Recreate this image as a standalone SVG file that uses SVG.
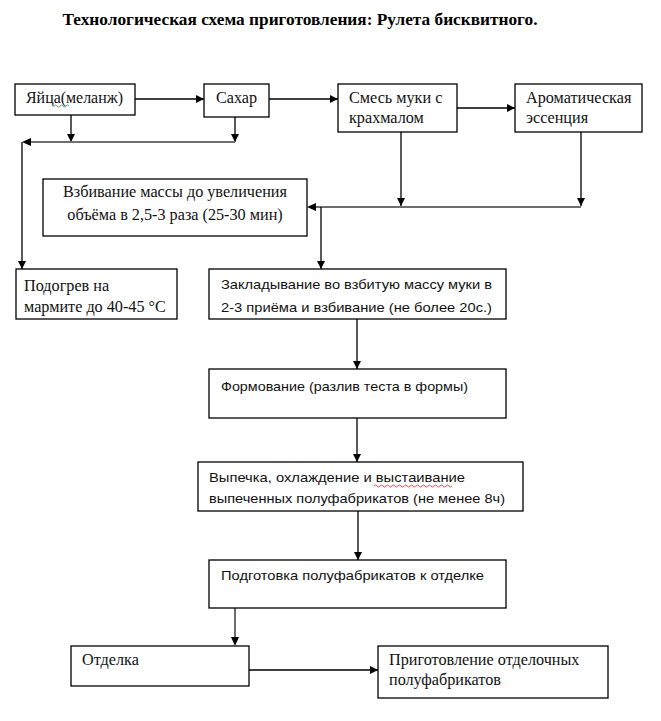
<svg xmlns="http://www.w3.org/2000/svg" width="661" height="721" viewBox="0 0 661 721">
<defs>
<style>
.box{fill:#fff;stroke:#000;stroke-width:1.3}
.s{font-family:"Liberation Serif","Times New Roman",serif;font-size:16.2px;fill:#111}
.a{font-family:"Liberation Sans",Arial,sans-serif;font-size:13.5px;fill:#111}
.t{font-family:"Liberation Serif","Times New Roman",serif;font-size:16.5px;font-weight:bold;fill:#000}
.c{fill:none;stroke:#000;stroke-width:1.3}
.g{fill:none;stroke:#6e6e6e;stroke-width:2}
.w{fill:none;stroke-width:0.8}
</style>
<marker id="ah" viewBox="0 0 10 10" refX="10" refY="5" markerWidth="8" markerHeight="8" markerUnits="userSpaceOnUse" orient="auto">
<path d="M0,0 L10,5 L0,10 z" fill="#000"/>
</marker>
</defs>
<rect width="661" height="721" fill="#fff"/>
<text class="t" x="300" y="25" text-anchor="middle" textLength="475" lengthAdjust="spacingAndGlyphs">Технологическая схема приготовления: Рулета бисквитного.</text>

<g id="connectors">
<line class="c" x1="135" y1="99" x2="204" y2="99" marker-end="url(#ah)"/>
<line class="c" x1="269" y1="99" x2="338" y2="99" marker-end="url(#ah)"/>
<line class="c" x1="457" y1="108" x2="515" y2="108" marker-end="url(#ah)"/>
<line class="c" x1="71" y1="115" x2="71" y2="142" marker-end="url(#ah)"/>
<line class="c" x1="235" y1="117" x2="235" y2="142" marker-end="url(#ah)"/>
<line class="g" x1="235" y1="142" x2="30" y2="142"/>
<path d="M22,142 L31,138 L31,146 z" fill="#000"/>
<line class="c" x1="22" y1="142" x2="22" y2="269" marker-end="url(#ah)"/>
<line class="c" x1="401" y1="132" x2="401" y2="206" marker-end="url(#ah)"/>
<line class="c" x1="581" y1="132" x2="581" y2="206" marker-end="url(#ah)"/>
<line class="g" x1="581" y1="207" x2="316" y2="207"/>
<path d="M307,207 L316,203 L316,211 z" fill="#000"/>
<line class="c" x1="321" y1="207" x2="321" y2="269" marker-end="url(#ah)"/>
<line class="c" x1="357" y1="319" x2="357" y2="369" marker-end="url(#ah)"/>
<line class="c" x1="357" y1="418" x2="357" y2="462" marker-end="url(#ah)"/>
<line class="c" x1="358" y1="511" x2="358" y2="560" marker-end="url(#ah)"/>
<line class="g" x1="235" y1="608" x2="235" y2="640"/>
<path d="M235,646 L231,637 L239,637 z" fill="#000"/>
<line class="c" x1="249" y1="670" x2="378" y2="670" marker-end="url(#ah)"/>
</g>

<g id="n1"><rect class="box" x="15" y="84" width="120" height="31"/><text class="s" x="26" y="103" textLength="97" lengthAdjust="spacingAndGlyphs">Яйца(меланж)</text>
<path class="w" stroke="#2e8b57" d="M54,106 q1.5,-2 3,0 t3,0 t3,0 t3,0 t3,0"/></g>
<g id="n2"><rect class="box" x="204" y="84" width="65" height="33"/><text class="s" x="216" y="103">Сахар</text></g>
<g id="n3"><rect class="box" x="338" y="84" width="119" height="48"/><text class="s" x="349" y="103">Смесь муки с</text><text class="s" x="349" y="123">крахмалом</text></g>
<g id="n4"><rect class="box" x="515" y="84" width="127" height="48"/><text class="s" x="526" y="103">Ароматическая</text><text class="s" x="526" y="123">эссенция</text></g>
<g id="n5"><rect class="box" x="43" y="179" width="264" height="57"/><text class="s" x="175" y="197" text-anchor="middle">Взбивание массы до увеличения</text><text class="s" x="175" y="220" text-anchor="middle">объёма в 2,5-3 раза (25-30 мин)</text></g>
<g id="n6"><rect class="box" x="16" y="269" width="161" height="50"/><text class="s" x="24" y="291">Подогрев на</text><text class="s" x="24" y="312">мармите до 40-45 °С</text></g>
<g id="n7"><rect class="box" x="209" y="269" width="297" height="50"/><text class="a" x="221" y="289" textLength="271" lengthAdjust="spacingAndGlyphs">Закладывание во взбитую массу муки в</text><text class="a" x="221" y="312" textLength="271" lengthAdjust="spacingAndGlyphs">2-3 приёма и взбивание (не более 20с.)</text></g>
<g id="n8"><rect class="box" x="209" y="369" width="297" height="49"/><text class="a" x="221" y="391" textLength="247" lengthAdjust="spacingAndGlyphs">Формование (разлив теста в формы)</text></g>
<g id="n9"><rect class="box" x="198" y="462" width="325" height="49"/><text class="a" x="209" y="482" textLength="256" lengthAdjust="spacingAndGlyphs">Выпечка, охлаждение и выстаивание</text>
<path class="w" stroke="#d22" d="M374,486 q1.5,-2 3,0 t3,0 t3,0 t3,0 t3,0 t3,0 t3,0 t3,0 t3,0 t3,0 t3,0 t3,0 t3,0 t3,0 t3,0 t3,0 t3,0 t3,0 t3,0 t3,0 t3,0 t3,0 t3,0 t3,0 t3,0 t3,0"/>
<text class="a" x="209" y="503" textLength="296" lengthAdjust="spacingAndGlyphs">выпеченных полуфабрикатов (не менее 8ч)</text></g>
<g id="n10"><rect class="box" x="209" y="560" width="297" height="48"/><text class="a" x="221" y="580" textLength="263" lengthAdjust="spacingAndGlyphs">Подготовка полуфабрикатов к отделке</text></g>
<g id="n11"><rect class="box" x="71" y="646" width="178" height="40"/><text class="s" x="82" y="665">Отделка</text></g>
<g id="n12"><rect class="box" x="378" y="646" width="230" height="52"/><text class="s" x="389" y="665">Приготовление отделочных</text><text class="s" x="389" y="685">полуфабрикатов</text></g>
</svg>
